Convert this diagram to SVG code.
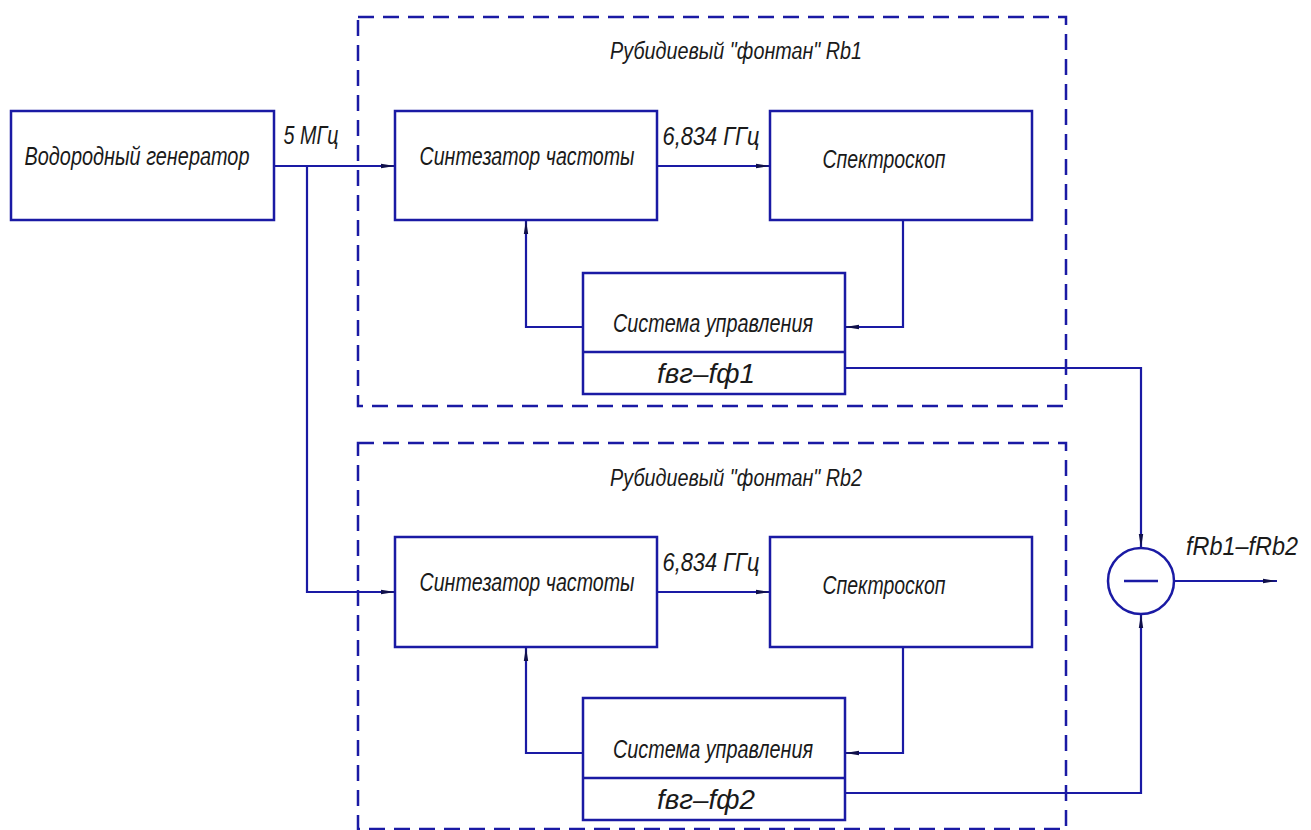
<svg xmlns="http://www.w3.org/2000/svg" width="1311" height="830" viewBox="0 0 1311 830">
<defs>
<style>
.box{fill:none;stroke:#1a1aa4;stroke-width:2.5}
.dash{fill:none;stroke:#1a1aa4;stroke-width:2.5;stroke-dasharray:16 9}
.ln{fill:none;stroke:#1a1aa4;stroke-width:2.2}
text{font-family:"Liberation Sans Narrow","Liberation Sans",Arial,sans-serif;font-style:italic;fill:#1a1a1a;text-anchor:middle}
.t{font-size:25px}
.h{font-size:23px}
.l{font-size:28px}
.o{font-size:25px}
</style>
<marker id="ar" viewBox="0 0 14 6" refX="14" refY="3" markerWidth="14" markerHeight="6" markerUnits="userSpaceOnUse" orient="auto">
<path d="M0,0.8 L14,3 L0,5.2 z" fill="#10104a"/>
</marker>
</defs>
<rect width="1311" height="830" fill="#fff"/>

<g id="frame1"><rect class="dash" x="358" y="17" width="708" height="389"/>
<text class="h" x="736" y="59" textLength="252" lengthAdjust="spacingAndGlyphs">Рубидиевый "фонтан" Rb1</text></g>
<g id="frame2"><rect class="dash" x="358" y="443" width="708" height="386"/>
<text class="h" x="736" y="486" textLength="252" lengthAdjust="spacingAndGlyphs">Рубидиевый "фонтан" Rb2</text></g>

<g id="h-gen"><rect class="box" x="11" y="111" width="263" height="109"/>
<text class="t" x="137" y="165" textLength="225" lengthAdjust="spacingAndGlyphs">Водородный генератор</text></g>

<g id="synth1"><rect class="box" x="395" y="111" width="262" height="109"/>
<text class="t" x="527" y="165" textLength="215" lengthAdjust="spacingAndGlyphs">Синтезатор частоты</text></g>
<g id="spectro1"><rect class="box" x="770" y="111" width="262" height="109"/>
<text class="t" x="884" y="168" textLength="123" lengthAdjust="spacingAndGlyphs">Спектроскоп</text></g>
<g id="control1"><rect class="box" x="583" y="273" width="262" height="121"/>
<line class="box" x1="583" y1="352" x2="845" y2="352"/>
<text class="t" x="713" y="332" textLength="200" lengthAdjust="spacingAndGlyphs">Система управления</text>
<text class="l" x="706" y="383" textLength="98" lengthAdjust="spacingAndGlyphs">fвг–fф1</text></g>

<g id="synth2"><rect class="box" x="395" y="537" width="262" height="110"/>
<text class="t" x="527" y="591" textLength="215" lengthAdjust="spacingAndGlyphs">Синтезатор частоты</text></g>
<g id="spectro2"><rect class="box" x="770" y="537" width="262" height="110"/>
<text class="t" x="884" y="594" textLength="123" lengthAdjust="spacingAndGlyphs">Спектроскоп</text></g>
<g id="control2"><rect class="box" x="583" y="698" width="262" height="122"/>
<line class="box" x1="583" y1="778" x2="845" y2="778"/>
<text class="t" x="713" y="758" textLength="200" lengthAdjust="spacingAndGlyphs">Система управления</text>
<text class="l" x="706" y="809" textLength="98" lengthAdjust="spacingAndGlyphs">fвг–fф2</text></g>

<g id="subtractor"><circle class="box" cx="1141" cy="581" r="33"/>
<line class="box" x1="1124" y1="581" x2="1158" y2="581"/></g>

<g id="connectors">
<path class="ln" d="M274,166 H395" marker-end="url(#ar)"/>
<path class="ln" d="M307,166 V592 H395" marker-end="url(#ar)"/>
<path class="ln" d="M657,166 H770" marker-end="url(#ar)"/>
<path class="ln" d="M903,220 V327 H845" marker-end="url(#ar)"/>
<path class="ln" d="M583,327 H526 V220" marker-end="url(#ar)"/>
<path class="ln" d="M845,368 H1141 V548" marker-end="url(#ar)"/>
<path class="ln" d="M657,592 H770" marker-end="url(#ar)"/>
<path class="ln" d="M903,647 V753 H845" marker-end="url(#ar)"/>
<path class="ln" d="M583,753 H526 V647" marker-end="url(#ar)"/>
<path class="ln" d="M845,793 H1141 V614" marker-end="url(#ar)"/>
<path class="ln" d="M1174,581 H1277" marker-end="url(#ar)"/>
</g>

<g id="labels">
<text class="t" x="311" y="144" textLength="55" lengthAdjust="spacingAndGlyphs">5 МГц</text>
<text class="t" x="711" y="145" textLength="97" lengthAdjust="spacingAndGlyphs">6,834 ГГц</text>
<text class="t" x="711" y="571" textLength="97" lengthAdjust="spacingAndGlyphs">6,834 ГГц</text>
<text class="o" x="1242" y="555" textLength="112" lengthAdjust="spacingAndGlyphs">fRb1–fRb2</text>
</g>
</svg>
